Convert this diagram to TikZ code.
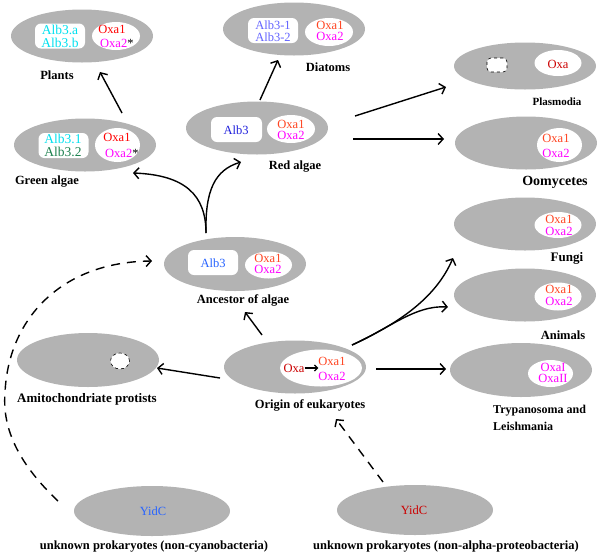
\documentclass[tikz,border=0pt]{standalone}
\usepackage{fontspec}
\setmainfont{Liberation Serif}
\usetikzlibrary{arrows.meta,shapes.geometric}
\definecolor{cellgray}{RGB}{179,179,179}
\definecolor{oxred}{RGB}{255,0,0}
\definecolor{oxorange}{RGB}{255,69,34}
\definecolor{oxmag}{RGB}{255,0,255}
\definecolor{oxdark}{RGB}{204,0,0}
\definecolor{albcyan}{RGB}{0,225,240}
\definecolor{albgreen}{RGB}{30,130,80}
\definecolor{albslate}{RGB}{100,100,255}
\definecolor{albblue}{RGB}{34,34,221}
\definecolor{albsky}{RGB}{40,100,255}
\begin{document}
\begin{tikzpicture}[x=1pt,y=-1pt,
  cellnode/.style={ellipse, fill=cellgray, minimum width=142pt, minimum height=53pt, inner sep=0pt},
  albbox/.style={rectangle, rounded corners=6pt, fill=white, minimum width=50pt, minimum height=25pt, inner sep=0pt},
  oxell/.style={ellipse, fill=white, minimum width=47pt, minimum height=27pt, inner sep=0pt},
  gene/.style={font=\fontsize{12.5}{12.5}\selectfont, inner sep=0pt},
  biggene/.style={font=\fontsize{13.5}{13.5}\selectfont, inner sep=0pt},
  lab/.style={font=\fontsize{12.5}{14}\selectfont\bfseries, inner sep=0pt},
  arr/.style={line width=1.4pt, -{Straight Barb[length=5pt,width=11pt]}},
  darr/.style={arr, dash pattern=on 9pt off 7pt},
  smallarr/.style={line width=1.2pt, -{Straight Barb[length=3pt,width=6pt]}}]
\useasboundingbox (0,0) rectangle (600,555);

% ---------- Plants
\node[cellnode] (plants) at (82,36) {};
\node[albbox] (pl-box) at (60,36) {};
\node[oxell, minimum width=48pt, minimum height=28pt] (pl-ox) at (116,36) {};
\node[biggene, text=albcyan] (pl-a) at (60,30) {Alb3.a};
\node[biggene, text=albcyan] (pl-b) at (60,43) {Alb3.b};
\node[gene, text=oxred] (pl-o1) at (112,29) {Oxa1};
\node[gene, text=oxmag, anchor=west] (pl-o2) at (100,43) {Oxa2\textcolor{black}{*}};
\node[lab] (pl-lab) at (57,75) {Plants};

% ---------- Green algae
\node[cellnode] (green) at (85,145) {};
\node[albbox] (ga-box) at (63.5,145.5) {};
\node[oxell, minimum width=45pt, minimum height=34pt] (ga-ox) at (117.5,145) {};
\node[biggene, text=albcyan] (ga-a) at (63,139) {Alb3.1};
\node[biggene, text=albgreen] (ga-b) at (63,152) {Alb3.2};
\node[gene, text=oxred] (ga-o1) at (117,137) {Oxa1};
\node[gene, text=oxmag, anchor=west] (ga-o2) at (105,153) {Oxa2\textcolor{black}{*}};
\node[lab] (ga-lab) at (47,182) {Green algae};

% ---------- Diatoms
\node[cellnode] (diatoms) at (294,29) {};
\node[albbox] (di-box) at (273,30.5) {};
\node[oxell, minimum width=48pt, minimum height=28pt] (di-ox) at (329,32) {};
\node[gene, text=albslate] (di-a) at (273,25) {Alb3-1};
\node[gene, text=albslate] (di-b) at (273,37) {Alb3-2};
\node[gene, text=oxorange] (di-o1) at (330,25) {Oxa1};
\node[gene, text=oxmag] (di-o2) at (330,36) {Oxa2};
\node[lab] (di-lab) at (328,67) {Diatoms};

% ---------- Red algae
\node[cellnode] (red) at (257,128) {};
\node[albbox, minimum width=51pt] (ra-box) at (236.5,129.5) {};
\node[oxell, minimum width=48pt, minimum height=28pt] (ra-ox) at (291,129) {};
\node[gene, text=albblue] (ra-a) at (236,130) {Alb3};
\node[gene, text=oxorange] (ra-o1) at (291,124) {Oxa1};
\node[gene, text=oxmag] (ra-o2) at (291,135) {Oxa2};
\node[lab] (ra-lab) at (295,167) {Red algae};

% ---------- Plasmodia
\node[cellnode, minimum height=47pt] (plasmo) at (525,66) {};
\node[draw, dashed, line width=0.6pt, rounded corners=4pt, fill=white, minimum width=20pt, minimum height=14pt, inner sep=0pt] (pm-box) at (497,65) {};
\node[oxell, minimum height=26pt] (pm-ox) at (558,63) {};
\node[gene, text=oxdark] (pm-o) at (558,64) {Oxa};
\node[lab, font=\fontsize{11}{12}\selectfont\bfseries] (pm-lab) at (557,102) {Plasmodia};

% ---------- Oomycetes
\node[cellnode] (oomy) at (526,143) {};
\node[oxell, minimum width=45pt, minimum height=34pt] (oo-ox) at (559.5,145) {};
\node[gene, text=oxorange] (oo-o1) at (556,138) {Oxa1};
\node[gene, text=oxmag] (oo-o2) at (556,153) {Oxa2};
\node[lab, font=\fontsize{14}{15}\selectfont\bfseries] (oo-lab) at (555,182) {Oomycetes};

% ---------- Fungi
\node[cellnode] (fungi) at (525,224) {};
\node[oxell, minimum height=26pt] (fu-ox) at (558,225) {};
\node[gene, text=oxorange] (fu-o1) at (559,219) {Oxa1};
\node[gene, text=oxmag] (fu-o2) at (559,231) {Oxa2};
\node[lab, font=\fontsize{13}{14}\selectfont\bfseries] (fu-lab) at (567,258) {Fungi};

% ---------- Animals
\node[cellnode] (animals) at (525,295) {};
\node[oxell, minimum height=28pt] (an-ox) at (558,296.5) {};
\node[gene, text=oxorange] (an-o1) at (559,289.5) {Oxa1};
\node[gene, text=oxmag] (an-o2) at (559,301.5) {Oxa2};
\node[lab] (an-lab) at (563,335) {Animals};

% ---------- Trypanosoma
\node[cellnode, minimum height=54pt] (tryp) at (521,370) {};
\node[oxell, minimum width=45pt] (tr-ox) at (550.5,373.5) {};
\node[gene, text=oxmag] (tr-o1) at (553,367) {OxaI};
\node[gene, text=oxmag] (tr-o2) at (553,378) {OxaII};
\node[lab, anchor=west, font=\fontsize{12}{13}\selectfont\bfseries] (tr-lab1) at (493,411) {Trypanosoma and};
\node[lab, anchor=west, font=\fontsize{12}{13}\selectfont\bfseries] (tr-lab2) at (493,426) {Leishmania};

% ---------- Ancestor of algae
\node[cellnode, minimum height=54pt] (ancestor) at (235,264) {};
\node[albbox] (as-box) at (213,262.5) {};
\node[oxell] (as-ox) at (268.5,265) {};
\node[gene, text=albsky] (as-a) at (213,263) {Alb3};
\node[gene, text=oxorange] (as-o1) at (268,258) {Oxa1};
\node[gene, text=oxmag] (as-o2) at (268,269) {Oxa2};
\node[lab] (as-lab) at (243,300) {Ancestor of algae};

% ---------- Amitochondriate protists
\node[cellnode, minimum height=54pt] (amito) at (88,360) {};
\node[ellipse, draw, dashed, line width=0.6pt, fill=white, minimum width=19pt, minimum height=16pt, inner sep=0pt] (am-hole) at (120,361) {};
\node[lab, font=\fontsize{13}{14}\selectfont\bfseries] (am-lab) at (87,399) {Amitochondriate protists};

% ---------- Origin of eukaryotes
\node[cellnode] (origin) at (295,367) {};
\node[ellipse, fill=white, minimum width=82pt, minimum height=37pt, inner sep=0pt] (or-in) at (321,368) {};
\node[gene, text=oxdark] (or-oxa) at (294,368) {Oxa};
\node[gene, text=oxorange] (or-o1) at (332,361) {Oxa1};
\node[gene, text=oxmag] (or-o2) at (332,376) {Oxa2};
\draw[smallarr] (or-oxa.east) -- (or-oxa.east -| or-o1.west);
\node[lab] (or-lab) at (310,405) {Origin of eukaryotes};

% ---------- YidC
\node[cellnode, minimum width=156pt, minimum height=50pt] (yidcL) at (152,511) {};
\node[gene, text=albsky] (yl-t) at (153,511) {YidC};
\node[lab] (yl-lab) at (154,547) {unknown prokaryotes (non-cyanobacteria)};
\node[cellnode, minimum width=156pt, minimum height=50pt] (yidcR) at (415,510) {};
\node[gene, text=oxdark] (yr-t) at (414,510) {YidC};
\node[lab] (yr-lab) at (446,547) {unknown prokaryotes (non-alpha-proteobacteria)};

% ---------- connector end points
\coordinate (g2p-s) at (122,113); \coordinate (g2p-e) at (100,72);
\coordinate (r2d-s) at (260,100); \coordinate (r2d-e) at (278,60);
\coordinate (r2pl-s) at (355,116); \coordinate (r2pl-e) at (446,87);
\coordinate (r2oo-s) at (353,139); \coordinate (r2oo-e) at (444,139);
\coordinate (as-s) at (206,233); \coordinate (as-g) at (133,173); \coordinate (as-r) at (241,162);
\coordinate (o2f-s) at (352,345); \coordinate (o2f-e) at (453,258); \coordinate (o2a-e) at (448,307);
\coordinate (o2t-s) at (376,369); \coordinate (o2t-e) at (446,369);
\coordinate (o2as-s) at (262,335); \coordinate (o2as-e) at (245,312);
\coordinate (o2am-s) at (220,378); \coordinate (o2am-e) at (157,368);
\coordinate (yl-s) at (58,501); \coordinate (yl-m) at (5,393); \coordinate (yl-e) at (152,261);
\coordinate (yr-s) at (383,482); \coordinate (yr-e) at (336,419);

% ---------- connectors
\draw[arr] (g2p-s) -- (g2p-e);
\draw[arr] (r2d-s) -- (r2d-e);
\draw[arr] (r2pl-s) -- (r2pl-e);
\draw[arr] (r2oo-s) -- (r2oo-e);
\draw[arr] (as-s) .. controls (206,195) and (185,175) .. (as-g);
\draw[arr] (as-s) .. controls (205,190) and (215,170) .. (as-r);
\draw[arr] (o2f-s) .. controls (395,325) and (435,300) .. (o2f-e);
\draw[arr] (o2f-s) .. controls (390,328) and (415,305) .. (o2a-e);
\draw[arr] (o2t-s) -- (o2t-e);
\draw[arr] (o2as-s) -- (o2as-e);
\draw[arr] (o2am-s) -- (o2am-e);
\draw[darr] (yl-s) .. controls (20,465) and (2,430) .. (yl-m) .. controls (8,320) and (60,262) .. (yl-e);
\draw[darr] (yr-s) -- (yr-e);
\end{tikzpicture}
\end{document}
